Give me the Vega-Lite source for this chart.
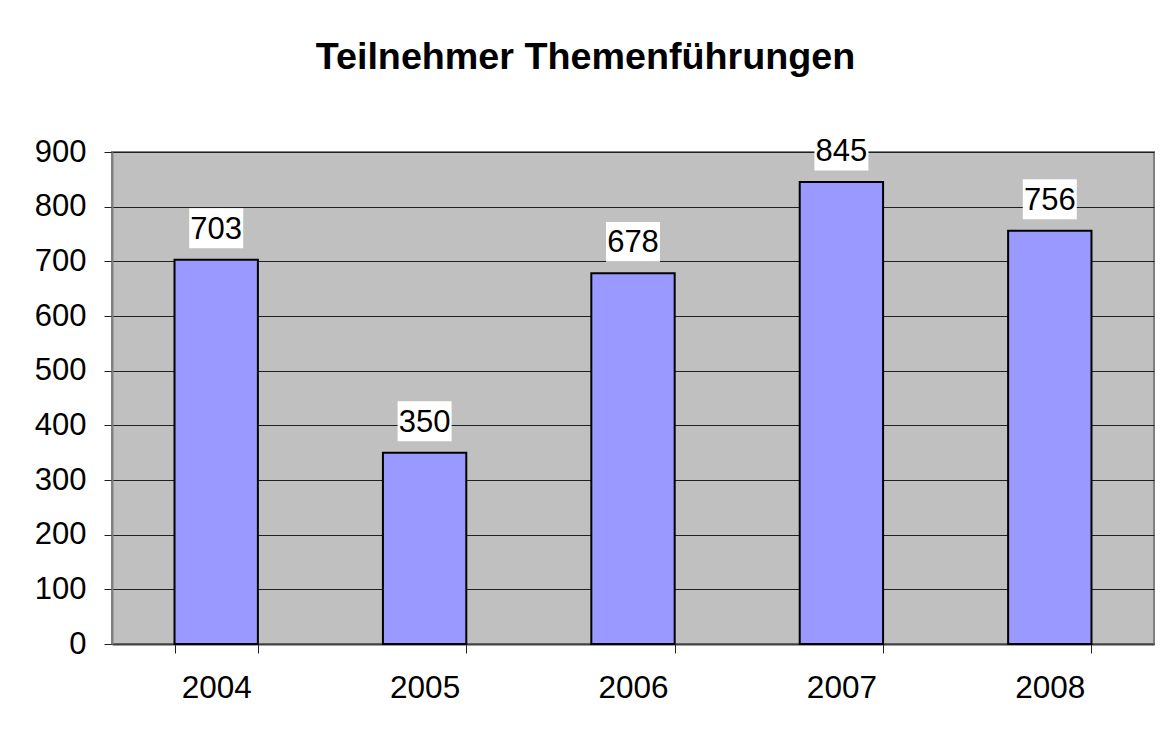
{
  "$schema": "https://vega.github.io/schema/vega-lite/v6.json",
  "autosize": {"type": "none"},
  "width": 1042,
  "height": 492,
  "padding": {"left": 112, "top": 152, "right": 17, "bottom": 90},
  "background": "white",
  "title": {
    "text": "Teilnehmer Themenführungen",
    "font": "Liberation Sans",
    "fontSize": 37.7,
    "fontWeight": "bold",
    "color": "black",
    "anchor": "middle",
    "baseline": "alphabetic",
    "offset": 24,
    "dx": -47.5
  },
  "data": {
    "values": [
      {"Jahr": "2004", "Teilnehmer": 703},
      {"Jahr": "2005", "Teilnehmer": 350},
      {"Jahr": "2006", "Teilnehmer": 678},
      {"Jahr": "2007", "Teilnehmer": 845},
      {"Jahr": "2008", "Teilnehmer": 756}
    ]
  },
  "encoding": {
    "x": {
      "field": "Jahr",
      "type": "ordinal",
      "scale": {"paddingInner": 0.6, "paddingOuter": 0.3},
      "axis": {
        "title": null,
        "labelAngle": 0,
        "labelFont": "Liberation Sans",
        "labelFontSize": 31.5,
        "labelColor": "black",
        "labelPadding": 19,
        "tickBand": "extent",
        "tickSize": 9,
        "tickColor": "#202020",
        "domainColor": "#404040",
        "domainWidth": 2,
        "grid": false
      }
    },
    "y": {
      "field": "Teilnehmer",
      "type": "quantitative",
      "scale": {"domain": [0, 900], "nice": false},
      "axis": {
        "title": null,
        "values": [0, 100, 200, 300, 400, 500, 600, 700, 800, 900],
        "labelFont": "Liberation Sans",
        "labelFontSize": 31,
        "labelColor": "black",
        "labelPadding": 18,
        "tickSize": 8,
        "tickColor": "#202020",
        "domainColor": "#808080",
        "domainWidth": 2,
        "grid": true,
        "gridColor": "#202020",
        "gridWidth": 1
      }
    }
  },
  "layer": [
    {
      "mark": {"type": "bar", "fill": "#9999FF", "stroke": "black", "strokeWidth": 2}
    },
    {
      "mark": {
        "type": "point",
        "shape": "M-1,-0.74L1,-0.74L1,0.74L-1,0.74Z",
        "size": 2916,
        "filled": true,
        "fill": "white",
        "opacity": 1,
        "strokeWidth": 0,
        "yOffset": -31.5
      }
    },
    {
      "mark": {
        "type": "text",
        "font": "Liberation Sans",
        "fontSize": 31,
        "color": "black",
        "baseline": "middle",
        "dy": -30
      },
      "encoding": {"text": {"field": "Teilnehmer", "type": "quantitative"}}
    }
  ],
  "config": {
    "view": {"fill": "#C0C0C0", "stroke": "#808080", "strokeWidth": 2}
  }
}
